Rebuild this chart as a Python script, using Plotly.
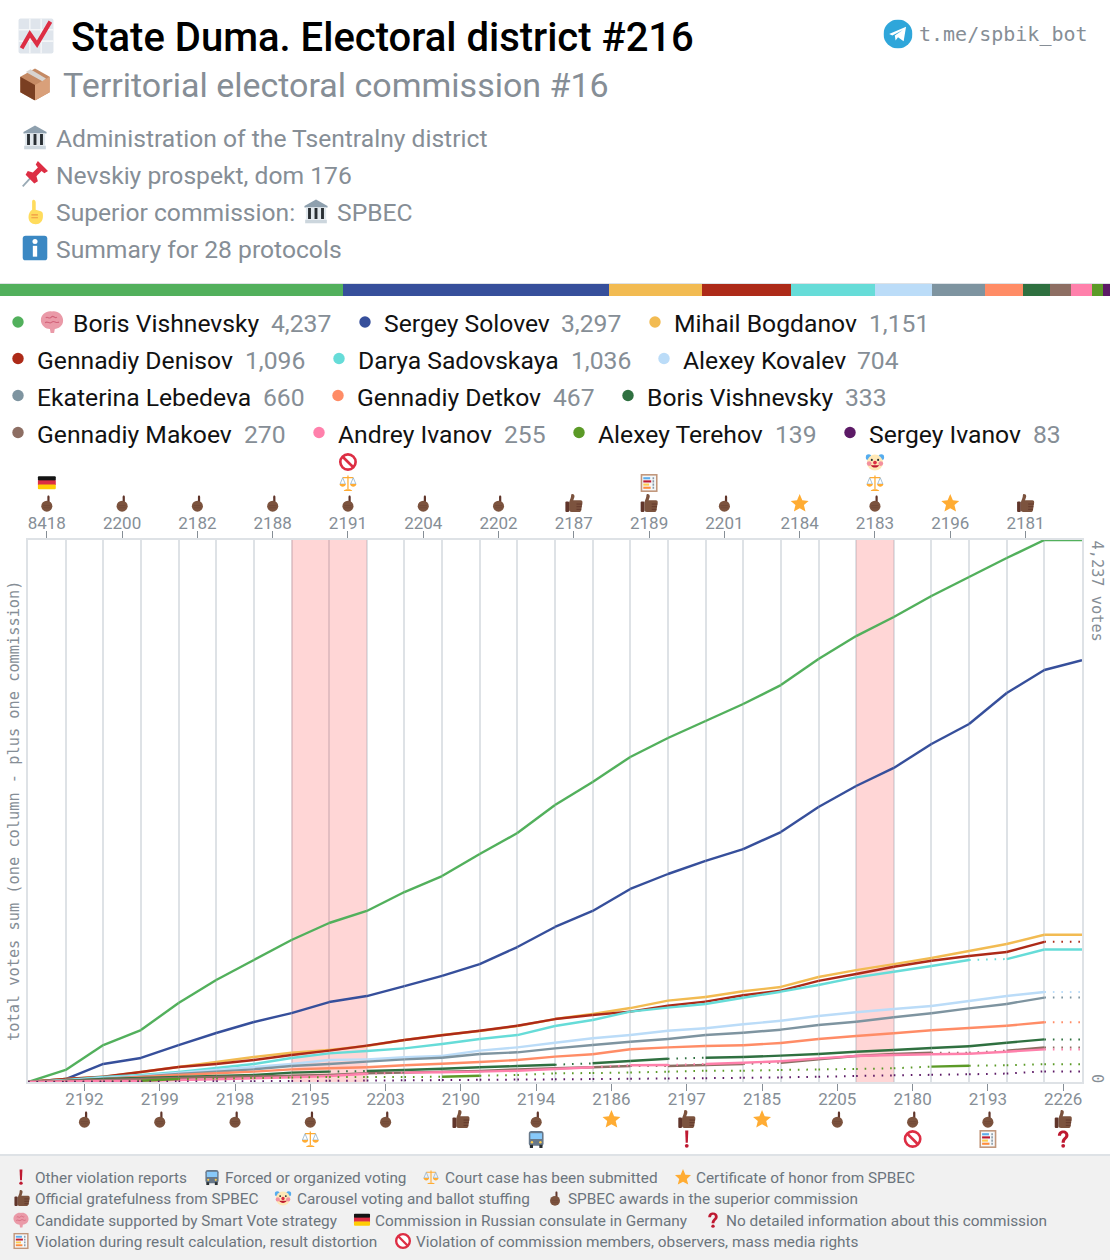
import base64
import plotly.graph_objects as go

W, H = 1110, 1260

# ---------- data ----------
commissions = ["8418", "2192", "2200", "2199", "2182", "2198", "2188", "2195", "2191", "2203",
               "2204", "2190", "2202", "2194", "2187", "2186", "2189", "2197", "2201", "2185",
               "2184", "2205", "2183", "2180", "2196", "2193", "2181", "2226"]
violation_bands = ["2195", "2191", "2183"]

names = ["Boris Vishnevsky", "Sergey Solovev", "Mihail Bogdanov", "Gennadiy Denisov", "Darya Sadovskaya",
         "Alexey Kovalev", "Ekaterina Lebedeva", "Gennadiy Detkov", "Boris Vishnevsky", "Gennadiy Makoev",
         "Andrey Ivanov", "Alexey Terehov", "Sergey Ivanov"]
totals = [4237, 3297, 1151, 1096, 1036, 704, 660, 467, 333, 270, 255, 139, 83]
colors = ["#52b05c", "#364f9b", "#f2bb52", "#ad2a18", "#66dcd8", "#bbdcf8", "#7e94a0", "#ff8c66",
          "#2f7040", "#8d6e63", "#ff80ab", "#5b9a27", "#5c1a66"]

vishnevsky = [0, 94, 289, 406, 618, 797, 954, 1110, 1243, 1337, 1485, 1610, 1782, 1946, 2165, 2345, 2541, 2689, 2822, 2955, 3103, 3307, 3486, 3635, 3799, 3948, 4096, 4237, 4237]
solovev = [0, 23, 141, 188, 289, 383, 469, 539, 625, 672, 750, 829, 922, 1055, 1212, 1337, 1509, 1626, 1728, 1821, 1954, 2150, 2314, 2455, 2642, 2799, 3041, 3221, 3297]
bogdanov = [0, 23, 39, 78, 117, 156, 195, 229, 250, 281, 328, 367, 399, 438, 492, 532, 578, 636, 664, 709, 743, 821, 875, 922, 969, 1024, 1079, 1151, 1151]
denisov = [0, 23, 41, 78, 117, 141, 172, 211, 245, 284, 328, 365, 401, 440, 492, 524, 550, 596, 628, 678, 714, 790, 844, 901, 948, 985, 1016, 1096, 1096]
sadovskaya = [0, 16, 39, 55, 78, 109, 141, 188, 224, 242, 263, 297, 336, 367, 438, 485, 550, 581, 610, 659, 706, 758, 818, 862, 907, 954, 961, 1036, 1036]
kovalev = [0, 10, 31, 47, 70, 94, 117, 141, 172, 177, 193, 203, 245, 271, 307, 342, 367, 401, 420, 451, 479, 516, 545, 571, 594, 633, 672, 704, 704]
lebedeva = [0, 8, 26, 41, 63, 81, 99, 125, 141, 159, 177, 190, 219, 232, 263, 289, 315, 336, 367, 385, 409, 446, 471, 506, 537, 576, 610, 660, 660]
detkov = [0, 8, 21, 39, 55, 68, 81, 99, 107, 115, 131, 143, 156, 172, 198, 217, 256, 271, 281, 287, 305, 336, 360, 381, 404, 422, 440, 467, 467]
vishnevsky2 = [0, 8, 23, 31, 39, 47, 55, 73, 81, 86, 94, 104, 115, 125, 135, 146, 164, 182, 190, 195, 206, 219, 237, 250, 266, 279, 307, 333, 333]
makoev = [0, 8, 16, 23, 31, 39, 43, 49, 55, 68, 73, 81, 86, 99, 107, 115, 125, 125, 133, 141, 151, 177, 203, 219, 229, 229, 245, 270, 270]
ivanov_a = [0, 4, 8, 8, 16, 21, 29, 37, 47, 65, 73, 76, 81, 88, 102, 115, 131, 133, 141, 151, 162, 185, 203, 211, 217, 221, 237, 255, 255]
terehov = [0, 2, 4, 10, 23, 27, 31, 35, 39, 39, 39, 41, 49, 55, 68, 70, 74, 81, 88, 88, 94, 98, 102, 107, 120, 127, 131, 139, 139]
ivanov_s = [0, 1, 2, 3, 4, 5, 6, 8, 9, 11, 13, 15, 17, 19, 21, 23, 25, 28, 30, 33, 36, 41, 47, 52, 56, 60, 66, 83, 83]
series = [vishnevsky, solovev, bogdanov, denisov, sadovskaya, kovalev, lebedeva, detkov, vishnevsky2,
          makoev, ivanov_a, terehov, ivanov_s]

# segments (band indexes) in which a candidate's line is shown dotted
dotted = [[], [], [], [27], [25], [27], [27], [27], [8, 14, 17, 27], [16, 19, 24, 25, 27], [9, 15, 17, 27],
          [i for i in range(28) if i not in (3, 11, 24)], list(range(28))]

commission_flags = {
    "8418": ["hand", "flag"], "2192": ["hand"], "2200": ["hand"], "2199": ["hand"], "2182": ["hand"],
    "2198": ["hand"], "2188": ["hand"], "2195": ["hand", "scales"], "2191": ["hand", "scales", "noentry"],
    "2203": ["hand"], "2204": ["hand"], "2190": ["thumb"], "2202": ["hand"], "2194": ["hand", "bus"],
    "2187": ["thumb"], "2186": ["star"], "2189": ["thumb", "abacus"], "2197": ["thumb", "exclaim"],
    "2201": ["hand"], "2185": ["star"], "2184": ["star"], "2205": ["hand"],
    "2183": ["hand", "scales", "clown"], "2180": ["hand", "noentry"], "2196": ["star"],
    "2193": ["hand", "abacus"], "2181": ["thumb"], "2226": ["thumb", "question"]}

# ---------- icons ----------
ICONS = {
    "chart": '<rect x="1" y="1" width="34" height="34" rx="2" fill="#dfe5ec"/><path d="M12 1V35M23 1V35M1 12H35M1 23H35" stroke="#f4f6f8" stroke-width="1.5"/><path d="M4 30L12 16L19 26L32 4" fill="none" stroke="#dd2e44" stroke-width="4"/>',
    "box": '<path d="M18 1L34 10V27L18 36L2 27V10Z" fill="#c58a64"/><path d="M2 10L18 19V36L2 27Z" fill="#7a3f22"/><path d="M18 19L34 10V27L18 36Z" fill="#d9a07a"/><path d="M8 5L26 15L30 12L13 2Z" fill="#d8d4d0"/>',
    "bank": '<path d="M18 2L34 11V13H2V11Z" fill="#8ea0ae"/><rect x="3" y="30" width="30" height="5" fill="#ccd6dd"/><rect x="4" y="13" width="28" height="17" fill="#e1e8ed"/><path d="M9 14V29M18 14V29M27 14V29" stroke="#292f33" stroke-width="4"/>',
    "pin": '<path d="M1 35L15 20" stroke="#99aab5" stroke-width="2.5"/><path d="M22 0L36 14L31 17L27 14L20 21L22 28L17 31L5 19L8 14L15 16L22 9L19 5Z" fill="#dd2e44"/>',
    "up": '<path d="M16 1C18 1 19 3 19 5V15L26 17C29 18 29 20 29 24C29 31 25 35 19 35C13 35 9 31 9 25C9 21 11 17 14 15V5C14 3 14 1 16 1Z" fill="#ffdc5d"/><path d="M13 22H22M13 26H22" stroke="#ef9645" stroke-width="1.5"/>',
    "info": '<rect x="1" y="1" width="34" height="34" rx="4" fill="#3b88c3"/><rect x="15" y="15" width="6" height="15" fill="#fff"/><circle cx="18" cy="9" r="3.5" fill="#fff"/>',
    "brain": '<path d="M18 3C25 1 34 7 34 16C34 24 27 28 22 28L21 34H16L15 28C9 28 2 23 2 15C2 7 11 1 18 3Z" fill="#ea9aa8"/><path d="M9 12C12 9 14 15 17 11C20 7 22 14 25 11M8 19C12 16 15 22 18 18C21 15 24 21 28 18" stroke="#d2647a" stroke-width="1.6" fill="none"/>',
    "flag": '<rect x="1" y="5" width="34" height="9" rx="2" fill="#141414"/><rect x="1" y="13" width="34" height="9" fill="#dd2e44"/><rect x="1" y="21" width="34" height="9" rx="2" fill="#ffcd05"/>',
    "hand": '<path d="M21 4C22.7 4 23.2 5 23.2 7V18H19V7C19 5 19.4 4 21 4Z" fill="#60352a"/><circle cx="18" cy="24" r="10.5" fill="#7c533e"/><path d="M11 23H25M11 27H25" stroke="#60352a" stroke-width="1" opacity=".6"/>',
    "thumb": '<path d="M15 1C18 1 20 3 19 7L17 13H31C34 13 35 16 34 19L32 32C31 34 30 35 28 35H14C10 35 9 33 9 31V17C11 11 13 8 13 3C13 2 14 1 15 1Z" fill="#7c533e"/><rect x="2" y="15" width="7" height="20" rx="2" fill="#60352a"/><path d="M23 20H34M23 25H33M23 30H32" stroke="#60352a" stroke-width="1.6"/>',
    "star": '<path d="M18 1L23 13L35 14L26 22L29 34L18 28L7 34L10 22L1 14L13 13Z" fill="#ffac33"/>',
    "scales": '<path d="M18 4V30M8 8H28" stroke="#ffac33" stroke-width="2.4"/><path d="M10 33C10 29 26 29 26 33Z" fill="#ffac33"/><path d="M8 8L3 20H13ZM28 8L23 20H33Z" fill="none" stroke="#88a9c3" stroke-width="1.4"/><path d="M2 20C3 27 13 27 14 20ZM22 20C23 27 33 27 34 20Z" fill="#ffac33"/>',
    "noentry": '<circle cx="18" cy="18" r="14.5" fill="#fff" stroke="#dd2e44" stroke-width="5"/><path d="M8 8L28 28" stroke="#dd2e44" stroke-width="5"/>',
    "abacus": '<rect x="2" y="1" width="32" height="34" fill="#c1967a"/><rect x="5" y="4" width="26" height="28" fill="#f5f8fa"/><rect x="7" y="7" width="13" height="4" fill="#5dadec"/><rect x="7" y="13" width="15" height="4" fill="#be1931"/><rect x="7" y="19" width="11" height="4" fill="#ffcc4d"/><rect x="7" y="25" width="14" height="4" fill="#ff8c3c"/><path d="M26 7v4M26 13v4M26 19v4M26 25v4" stroke="#8899a6" stroke-width="3"/>',
    "clown": '<circle cx="6" cy="9" r="5.5" fill="#55acee"/><circle cx="30" cy="9" r="5.5" fill="#55acee"/><circle cx="18" cy="19" r="15" fill="#ffe8b6"/><circle cx="7" cy="21" r="4.5" fill="#f4909f"/><circle cx="29" cy="21" r="4.5" fill="#f4909f"/><circle cx="12" cy="14" r="2" fill="#292f33"/><circle cx="24" cy="14" r="2" fill="#292f33"/><circle cx="18" cy="19" r="3.5" fill="#dd2e44"/><path d="M10 24C13 30 23 30 26 24Z" fill="#be1931"/>',
    "bus": '<rect x="4" y="3" width="28" height="28" rx="5" fill="#67788a"/><rect x="7" y="7" width="22" height="11" fill="#88c9f9"/><rect x="6" y="29" width="6" height="6" fill="#292f33"/><rect x="24" y="29" width="6" height="6" fill="#292f33"/><circle cx="10" cy="24" r="2.3" fill="#ffcc4d"/><circle cx="26" cy="24" r="2.3" fill="#ffcc4d"/>',
    "exclaim": '<path d="M15 2H21L20 25H16Z" fill="#be1931"/><circle cx="18" cy="31" r="3.6" fill="#be1931"/>',
    "question": '<path d="M8 12C8 5 13 2 18 2C24 2 28 6 28 11C28 18 21 18 21 25H15C15 16 22 15 22 11C22 8 20 7 18 7C15 7 14 9 14 12Z" fill="#be1931"/><circle cx="18" cy="31" r="3.6" fill="#be1931"/>',
    "tg": '<circle cx="18" cy="18" r="18" fill="#2fa6da"/><path d="M7 18L28 9L25 27L18 22L15 26L14 20L24 13L11 20Z" fill="#fff"/>',
}
images = []


def icon(name, cx, cy, w, h):
    svg = '<svg xmlns="http://www.w3.org/2000/svg" viewBox="0 0 36 36">' + ICONS[name] + "</svg>"
    src = "data:image/svg+xml;base64," + base64.b64encode(svg.encode()).decode()
    images.append(dict(source=src, xref="paper", yref="paper", x=(cx - w / 2) / W, y=1 - (cy - h / 2) / H,
                       sizex=w / W, sizey=h / H, xanchor="left", yanchor="top", sizing="stretch", layer="above"))


annotations = []


def txt(x, y, s, size, color, family="Roboto", anchor="left", angle=0, weight=None):
    font = dict(size=size, color=color, family=family)
    if weight:
        font["weight"] = weight
    annotations.append(dict(xref="paper", yref="paper", x=x / W, y=1 - y / H, text=s, showarrow=False,
                            xanchor=anchor, yanchor="middle", font=font, borderpad=0, textangle=angle))


GREY = "#868e96"
LINE = "#dee2e6"
X0, X1, YT, YB = 28, 1082, 540, 1082

fig = go.Figure()

# top share bar
for nm, tot, col in zip(names, totals, colors):
    fig.add_trace(go.Bar(x=[tot], y=[0], orientation="h", marker=dict(color=col, line_width=0), width=1,
                         xaxis="x3", yaxis="y3", showlegend=False, hoverinfo="skip"))

# candidate lines
edges = list(range(len(commissions) + 1))
for vals, col, dots in zip(series, colors, dotted):
    sx, sy, dx, dy = [], [], [], []
    for k in range(len(commissions)):
        if k in dots:
            dx += [edges[k], edges[k + 1], None]
            dy += [vals[k], vals[k + 1], None]
        else:
            sx += [edges[k], edges[k + 1], None]
            sy += [vals[k], vals[k + 1], None]
    if sx:
        fig.add_trace(go.Scatter(x=sx, y=sy, mode="lines", line=dict(color=col, width=2.4), showlegend=False,
                                 hoverinfo="skip"))
    if dx:
        fig.add_trace(go.Scatter(x=dx, y=dy, mode="lines", line=dict(color=col, width=2, dash="1.6px,6.9px"),
                                 showlegend=False, hoverinfo="skip"))
# keeps the top axis alive
fig.add_trace(go.Scatter(x=[0, 28], y=[0, 0], xaxis="x2", mode="lines", line=dict(width=0), showlegend=False,
                         hoverinfo="skip"))

top_idx = list(range(0, 28, 2))
bot_idx = list(range(1, 28, 2))
common = dict(range=[0, 28], tickmode="array", ticks="outside", ticklen=7, tickwidth=1, tickcolor=GREY,
              tickfont=dict(family="Roboto", size=17, color=GREY), showgrid=False, zeroline=False,
              showline=True, linecolor=LINE, linewidth=1.5, domain=[X0 / W, X1 / W])
fig.update_layout(
    width=W, height=H, margin=dict(l=0, r=0, t=0, b=0), autosize=False, paper_bgcolor="white",
    plot_bgcolor="white", barmode="stack", hovermode=False, showlegend=False,
    xaxis=dict(side="bottom", anchor="y", tickvals=[i + 0.5 for i in bot_idx],
               ticktext=[commissions[i] for i in bot_idx], ticklabelstandoff=-6,
               minor=dict(tickmode="array", tickvals=edges, showgrid=True, gridcolor=LINE, gridwidth=1.5,
                          ticks=""), **common),
    xaxis2=dict(side="top", overlaying="x", anchor="y", tickvals=[i + 0.5 for i in top_idx],
                ticktext=[commissions[i] for i in top_idx], ticklabelstandoff=-5, **common),
    yaxis=dict(domain=[1 - YB / H, 1 - YT / H], range=[0, totals[0]], showticklabels=False, ticks="",
               showgrid=False, zeroline=False, showline=True, mirror=True, linecolor=LINE, linewidth=1.5),
    xaxis3=dict(domain=[0, 1], range=[0, sum(totals)], visible=False, anchor="y3"),
    yaxis3=dict(domain=[1 - 296 / H, 1 - 284 / H], range=[-0.5, 0.5], visible=False, anchor="x3"),
)

# violation bands
shapes = []
for c in violation_bands:
    i = commissions.index(c)
    shapes.append(dict(type="rect", xref="x", yref="y", x0=i, x1=i + 1, y0=0, y1=totals[0], layer="between",
                       fillcolor="rgba(255,0,0,0.16)", line_width=0))

# footer panel and rule above the share bar
shapes.append(dict(type="rect", xref="paper", yref="paper", x0=0, x1=1, y0=0, y1=1 - 1155 / H, fillcolor="#f1f1f1",
                   line_width=0, layer="below"))
shapes.append(dict(type="line", xref="paper", yref="paper", x0=0, x1=1, y0=1 - 1155 / H, y1=1 - 1155 / H,
                   line=dict(color=LINE, width=2)))
shapes.append(dict(type="line", xref="paper", yref="paper", x0=0, x1=1, y0=1 - 283.5 / H, y1=1 - 283.5 / H,
                   line=dict(color=LINE, width=1)))

# header
icon("chart", 36, 36, 37, 37)
txt(70, 37, "State Duma. Electoral district #216", 40, "#000000", weight=500)
icon("box", 35, 84, 33, 33)
txt(62, 85.5, "Territorial electoral commission #16", 34, GREY)
icon("bank", 35, 137, 26, 26)
txt(55, 138.5, "Administration of the Tsentralny district", 24.65, GREY)
icon("pin", 35, 174, 26, 26)
txt(55, 175.5, "Nevskiy prospekt, dom 176", 24.65, GREY)
icon("up", 35, 212, 26, 26)
txt(55, 212.5, "Superior commission:", 24.65, GREY)
icon("bank", 316, 211, 26, 26)
txt(336, 212.5, "SPBEC", 24.65, GREY)
icon("info", 35, 248, 26, 26)
txt(55, 249.5, "Summary for 28 protocols", 24.65, GREY)
icon("tg", 898, 34, 29, 29)
txt(917.5, 34, "t.me/spbik_bot", 20, GREY, family="DejaVu Sans Mono")

# candidate legend
legend_layout = [(324, 18, 73, 271), (324, 365, 384, 561), (324, 655, 674, 869),
                 (360.5, 18, 37, 245), (360.5, 339, 358, 571), (360.5, 664, 683, 857),
                 (397.5, 18, 37, 263), (397.5, 338, 357, 553), (397.5, 628, 647, 845),
                 (434.5, 18, 37, 244), (434.5, 319, 338, 504), (434.5, 579, 598, 775), (434.5, 850, 869, 1033)]
for (y, dx, nx, vx), nm, tot, col in zip(legend_layout, names, totals, colors):
    shapes.append(dict(type="circle", xref="paper", yref="paper", x0=(dx - 5.7) / W, x1=(dx + 5.7) / W,
                       y0=1 - (y - 7.7) / H, y1=1 - (y + 3.7) / H, fillcolor=col, line_width=0))
    txt(nx - 1, y, nm, 24.7, "#111111")
    txt(vx - 1, y, f"{tot:,}", 24.7, GREY)
icon("brain", 52, 322, 25, 25)

# commission markers
for c, flags in commission_flags.items():
    i = commissions.index(c)
    cx = X0 + (i + 0.5) * (X1 - X0) / 28
    ys = [503, 483, 462] if i % 2 == 0 else [1119, 1139]
    for f, y in zip(flags, ys):
        icon(f, cx, y, 19, 19)

# axis captions
txt(14, 811, "total votes sum (one column - plus one commission)", 15.3, GREY, family="DejaVu Sans Mono",
    anchor="center", angle=-90)
txt(1097, 590.5, f"{totals[0]:,} votes", 15.3, GREY, family="DejaVu Sans Mono", anchor="center", angle=90)
txt(1097, 1078, "0", 15.3, GREY, family="DejaVu Sans Mono", anchor="center", angle=90)

# footer legend
foot = [(21, 35, 1178, "exclaim", "Other violation reports"),
        (212, 225, 1178, "bus", "Forced or organized voting"),
        (431, 445, 1178, "scales", "Court case has been submitted"),
        (683, 696, 1178, "star", "Certificate of honor from SPBEC"),
        (22, 35, 1199, "thumb", "Official gratefulness from SPBEC"),
        (283, 297, 1199, "clown", "Carousel voting and ballot stuffing"),
        (555, 568, 1199, "hand", "SPBEC awards in the superior commission"),
        (21, 35, 1221, "brain", "Candidate supported by Smart Vote strategy"),
        (362, 375, 1221, "flag", "Commission in Russian consulate in Germany"),
        (713, 726, 1221, "question", "No detailed information about this commission"),
        (21, 35, 1242, "abacus", "Violation during result calculation, result distortion"),
        (403, 416, 1242, "noentry", "Violation of commission members, observers, mass media rights")]
for ix, tx, y, ic, s in foot:
    icon(ic, ix, y - 1, 17, 17)
    txt(tx - 1, y, s, 15.35, "#6c757d")

fig.update_layout(shapes=shapes, annotations=annotations, images=images)
fig.write_html("out.html", config=dict(displayModeBar=False, responsive=False),
               post_script="document.body.style.margin='0';document.documentElement.style.overflow='hidden';")
